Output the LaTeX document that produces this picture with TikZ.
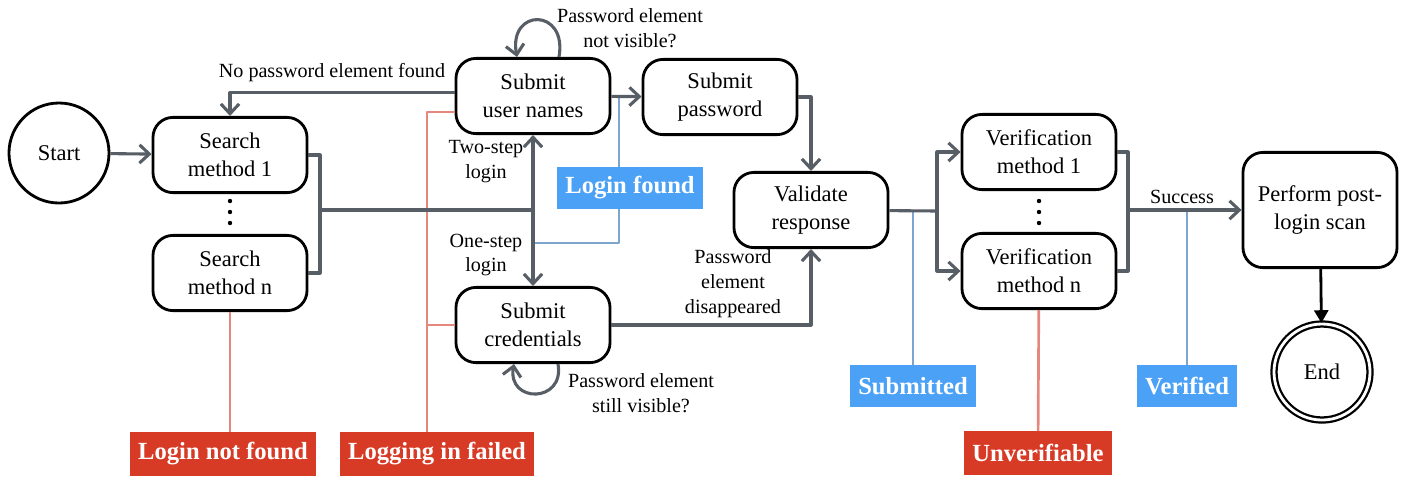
\documentclass[tikz,border=0pt]{standalone}
\usepackage{fontspec}
\setmainfont{Liberation Serif}
\usetikzlibrary{arrows.meta,positioning}
\definecolor{edgegray}{RGB}{88,94,102}
\definecolor{tagblue}{RGB}{75,161,245}
\definecolor{lineblue}{RGB}{125,165,205}
\definecolor{tagred}{RGB}{215,59,38}
\definecolor{linered}{RGB}{230,135,125}
\begin{document}
\begin{tikzpicture}[x=0.025cm, y=-0.025cm, line join=round, >={Straight Barb[length=7pt,width=13pt]},
	state/.style={draw, line width=2pt, rounded corners=0.5cm, minimum width=3.85cm, minimum height=1.88cm, align=center, font=\fontsize{16}{20}\selectfont},
	term/.style={draw, circle, line width=2pt, minimum size=2.5cm, font=\fontsize{16}{20}\selectfont},
	flow/.style={draw=edgegray, line width=2.2pt, ->},
	wire/.style={draw=edgegray, line width=2.2pt},
	okline/.style={draw=lineblue, line width=1.9pt},
	failline/.style={draw=linered, line width=1.9pt},
	oktag/.style={fill=tagblue, text=white, font=\bfseries\fontsize{17.5}{20}\selectfont, minimum height=1.05cm, inner xsep=0.2cm},
	failtag/.style={fill=tagred, text=white, font=\bfseries\fontsize{17.5}{20}\selectfont, minimum height=1.08cm, inner xsep=0.2cm},
	note/.style={font=\fontsize{14.3}{17.7}\selectfont, align=center}]
	\useasboundingbox (0,0) rectangle (1408,476);
	% states
	\node[term] (start) at (59,153) {Start};
	\node[state] (sm1) at (230,155) {Search\\method 1};
	\node[state] (smn) at (230,273) {Search\\method n};
	\node[state] (sun) at (533,96) {Submit\\user names};
	\node[state] (sp) at (720,97) {Submit\\password};
	\node[state] (sc) at (533,325) {Submit\\credentials};
	\node[state] (vr) at (811,210) {Validate\\response};
	\node[state] (vm1) at (1039,152) {Verification\\method 1};
	\node[state] (vmn) at (1039,271) {Verification\\method n};
	\node[state, minimum height=2.88cm] (ppls) at (1320,210) {Perform post-\\login scan};
	\node[term, line width=1.6pt, double, double distance=2pt, minimum size=2.4cm] (end) at (1322,372) {End};
	\foreach \x in {230,1039}\foreach \y in {201,212,223}\fill (\x,\y) circle (0.055cm);
	% outcomes
	\node[oktag] (found) at (630,188) {Login found};
	\node[oktag] (submitted) at (913,386) {Submitted};
	\node[oktag] (verified) at (1187,386) {Verified};
	\node[failtag] (nfound) at (223,454) {Login not found};
	\node[failtag] (failed) at (437,454) {Logging in failed};
	\node[failtag] (unverif) at (1038,453) {Unverifiable};
	\coordinate (jl) at (320,210);
	\coordinate (jv) at (937,211);
	\coordinate (jr) at (1128,210);
	\coordinate (fj) at (533,243);
	\coordinate (fu) at ([xshift=-0.275cm]found.north);
	\coordinate (fd) at ([xshift=-0.275cm]found.south);
	\coordinate (ft) at ([xshift=-0.25cm]failed.north);
	% outcome lines
	\draw[okline] (fu) -- (fu |- sun);
	\draw[okline] (fd) |- (fj);
	\draw[okline] (submitted) -- (submitted |- vr);
	\draw[okline] (verified) -- (verified |- ppls);
	\draw[failline] (smn.south) -- (smn.south |- nfound.north);
	\draw[failline] ([yshift=-0.4cm]sun.west) -| (ft);
	\draw[failline] (sc.west) -- (sc.west -| ft);
	\draw[failline] (vmn) -- (unverif);
	% flow
	\draw[flow] (start) -- (sm1);
	\draw[flow] ([yshift=0.08cm]sun.west) -| (sm1.north);
	\node[note] (nolabel) at (332,73) {No password element found};
	\draw[wire] (sm1) -| (jl) |- (smn);
	\draw[wire] (jl) -- (jl -| sun);
	\draw[flow, <->] (sun) -- (sc);
	\node[note] (twostep) at (486,162) {Two-step\\login};
	\node[note] (onestep) at (486,255) {One-step\\login};
	\draw[flow] (sun) -- (sp);
	\draw[flow] ([xshift=0.65cm]sun.north) .. controls +(80:1.25cm) and +(100:1.25cm) .. ([xshift=-0.4cm]sun.north);
	\node[note] (loopup) at (630,28) {Password element\\not visible?};
	\draw[flow] ([xshift=0.625cm]sc.south) .. controls +(-80:1.0cm) and +(-100:1.0cm) .. ([xshift=-0.475cm]sc.south);
	\node[note] (loopdown) at (641,393) {Password element\\still visible?};
	\draw[flow] (sp) -| (vr);
	\draw[flow] (sc) -| (vr);
	\node[note] (gone) at (733,284) {Password\\element\\disappeared};
	\draw[wire] (vr) -- (jv);
	\draw[flow] (jv) |- (vm1);
	\draw[flow] (jv) |- (vmn);
	\draw[wire] (vm1) -| (jr) |- (vmn);
	\draw[flow] (jr) -- (ppls);
	\node[note] (success) at (1182,197) {Success};
	\draw[line width=2pt, -{Triangle[length=9pt,width=10pt]}] (ppls) -- (end);
\end{tikzpicture}
\end{document}
